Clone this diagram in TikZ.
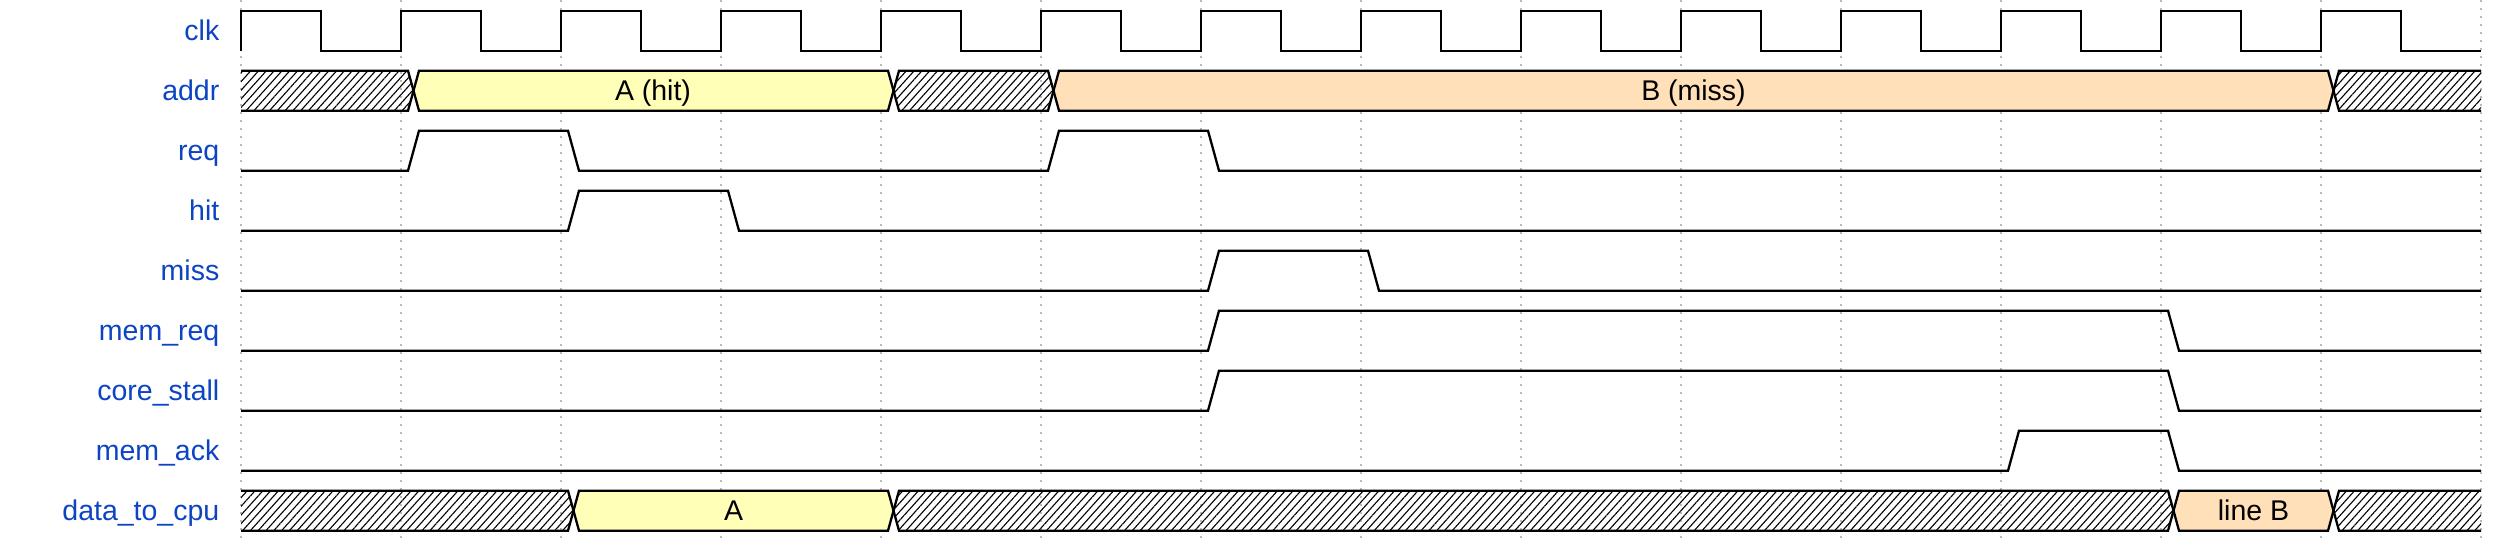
\documentclass[tikz,border=0pt]{standalone}
\usepackage{fontspec}
\setmainfont{Liberation Sans}
\usetikzlibrary{patterns.meta}
\definecolor{lblblue}{RGB}{12,68,196}
\definecolor{yel}{RGB}{255,255,184}
\definecolor{peach}{RGB}{255,224,184}
\definecolor{gridgray}{RGB}{185,185,185}

\newcommand\busseg[4]{%
  \pgfmathsetmacro\T{10.7+60*#1}%
  \pgfmathsetmacro\B{50.7+60*#1}%
  \pgfmathsetmacro\M{30.7+60*#1}%
  \pgfmathsetmacro\La{241+160*#2+18}%
  \pgfmathsetmacro\Lm{241+160*#2+12.5}%
  \pgfmathsetmacro\Ra{241+160*#3+7}%
  \pgfmathsetmacro\Rm{241+160*#3+12.5}%
  \ifnum#2=0 \def\La{241}\def\Lm{241}\fi
  \ifnum#3=14 \def\Ra{2481}\def\Rm{2481}\fi
  \path[#4] (\Lm,\M) -- (\La,\T) -- (\Ra,\T) -- (\Rm,\M) -- (\Ra,\B) -- (\La,\B) -- cycle;
  \ifnum#2=0
    \draw[sig] (\La,\T) -- (\Ra,\T) -- (\Rm,\M) -- (\Ra,\B) -- (\La,\B);
  \else
    \ifnum#3=14
      \draw[sig] (\Ra,\T) -- (\La,\T) -- (\Lm,\M) -- (\La,\B) -- (\Ra,\B);
    \else
      \draw[sig] (\Lm,\M) -- (\La,\T) -- (\Ra,\T) -- (\Rm,\M) -- (\Ra,\B) -- (\La,\B) -- cycle;
    \fi
  \fi
}

\begin{document}
\begin{tikzpicture}[x=1pt,y=-1pt,
  sig/.style={line width=2.3pt},
  gridline/.style={gridgray, line width=2pt, dash pattern=on 2pt off 6pt},
  lbl/.style={anchor=base east, inner sep=0pt, text=lblblue, font=\fontsize{28.5}{32}\selectfont},
  val/.style={anchor=base, inner sep=0pt, font=\fontsize{28.5}{32}\selectfont},
  hatch/.style={pattern={Lines[angle=48,distance=5.8pt,line width=1.1pt]}},
  yelfill/.style={fill=yel},
  peachfill/.style={fill=peach},
]
\fill[white] (0,0) rectangle (2520,540);
\useasboundingbox (0,0) rectangle (2520,540);

% grid
\foreach \k in {0,...,14} \draw[gridline] ({241+160*\k},0) -- ({241+160*\k},540);

% labels
\node[lbl] (lclk)   at (219.5,40.7)  {clk};
\node[lbl] (laddr)  at (219.5,100.7) {addr};
\node[lbl] (lreq)   at (219.5,160.7) {req};
\node[lbl] (lhit)   at (219.5,220.7) {hit};
\node[lbl] (lmiss)  at (219.5,280.7) {miss};
\node[lbl] (lmreq)  at (219.5,340.7) {mem\_req};
\node[lbl] (lstall) at (219.5,400.7) {core\_stall};
\node[lbl] (lack)   at (219.5,460.7) {mem\_ack};
\node[lbl] (ldata)  at (219.5,520.7) {data\_to\_cpu};

% clk
\draw[sig] (241,50.7) \foreach \k in {0,...,13} { -- ({241+160*\k},10.7) -- ({321+160*\k},10.7) -- ({321+160*\k},50.7) -- ({401+160*\k},50.7) };

% addr
\busseg{1}{0}{1}{hatch}
\busseg{1}{1}{4}{yelfill}
\busseg{1}{4}{5}{hatch}
\busseg{1}{5}{13}{peachfill}
\busseg{1}{13}{14}{hatch}
\node[val] (vA) at (653,100.7) {A (hit)};
\node[val] (vB) at (1693.5,100.7) {B (miss)};

% req
\draw[sig] (241,170.7) -- (408,170.7) -- (419,130.7) -- (568,130.7) -- (579,170.7) -- (1048,170.7) -- (1059,130.7) -- (1208,130.7) -- (1219,170.7) -- (2481,170.7);
% hit
\draw[sig] (241,230.7) -- (568,230.7) -- (579,190.7) -- (728,190.7) -- (739,230.7) -- (2481,230.7);
% miss
\draw[sig] (241,290.7) -- (1208,290.7) -- (1219,250.7) -- (1368,250.7) -- (1379,290.7) -- (2481,290.7);
% mem_req
\draw[sig] (241,350.7) -- (1208,350.7) -- (1219,310.7) -- (2168,310.7) -- (2179,350.7) -- (2481,350.7);
% core_stall
\draw[sig] (241,410.7) -- (1208,410.7) -- (1219,370.7) -- (2168,370.7) -- (2179,410.7) -- (2481,410.7);
% mem_ack
\draw[sig] (241,470.7) -- (2008,470.7) -- (2019,430.7) -- (2168,430.7) -- (2179,470.7) -- (2481,470.7);

% data_to_cpu
\busseg{8}{0}{2}{hatch}
\busseg{8}{2}{4}{yelfill}
\busseg{8}{4}{12}{hatch}
\busseg{8}{12}{13}{peachfill}
\busseg{8}{13}{14}{hatch}
\node[val] (vdA) at (733.5,520.7) {A};
\node[val] (vdB) at (2253.5,520.7) {line B};
\end{tikzpicture}
\end{document}
